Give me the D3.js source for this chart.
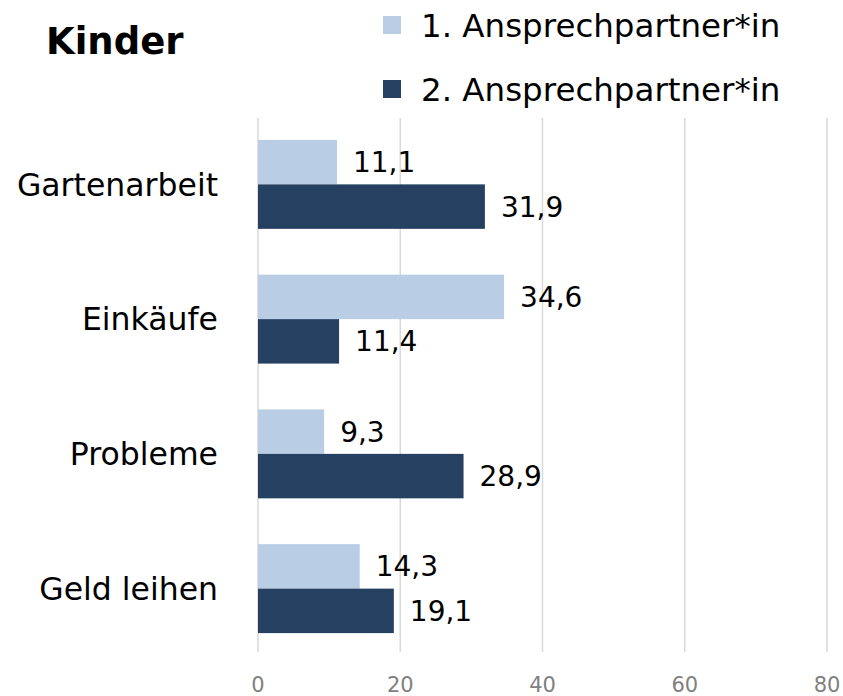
<!DOCTYPE html>
<html>
<head>
<meta charset="utf-8">
<script src="https://cdn.jsdelivr.net/npm/d3@7"></script>
<style>
  body { margin: 0; background: #fff; }
  svg { font-family: "DejaVu Sans", Verdana, sans-serif; }
</style>
</head>
<body>
<svg id="chart"></svg>
<script>
const categories = ["Gartenarbeit", "Einkäufe", "Probleme", "Geld leihen"];
const seriesNames = ["1. Ansprechpartner*in", "2. Ansprechpartner*in"];
const first = [11.1, 34.6, 9.3, 14.3];
const second = [31.9, 11.4, 28.9, 19.1];
const ticks = [0, 20, 40, 60, 80];
const colors = ["#b9cde5", "#254061"];

let width = 843;
let height = 696;
let margin = {top: 117, right: 16, bottom: 40, left: 258};

const svg = d3.select("#chart")
    .attr("width", width)
    .attr("height", height);

const x = d3.scaleLinear()
    .domain([0, 80])
    .range([margin.left, width - margin.right]);

const y = d3.scaleBand()
    .domain(categories)
    .range([margin.top, height - margin.bottom])
    .paddingInner(0.34)
    .paddingOuter(0.17);

const ySub = d3.scaleBand()
    .domain([0, 1])
    .range([0, y.bandwidth()]);

// gridlines
svg.append("g")
    .selectAll("line")
    .data(ticks)
    .join("line")
    .attr("x1", d => x(d))
    .attr("x2", d => x(d))
    .attr("y1", 118)
    .attr("y2", 652)
    .attr("stroke", "#d9d9d9")
    .attr("stroke-width", 1.5);

// tick labels
svg.append("g")
    .attr("font-size", 21)
    .attr("fill", "#808080")
    .attr("text-anchor", "middle")
    .selectAll("text")
    .data(ticks)
    .join("text")
    .attr("x", d => x(d))
    .attr("y", 692)
    .text(d => d);

const rows = categories.map((c, i) => ({cat: c, vals: [first[i], second[i]]}));

const groups = svg.append("g")
    .selectAll("g")
    .data(rows)
    .join("g")
    .attr("transform", d => `translate(0,${y(d.cat)})`);

groups.selectAll("rect")
    .data(d => d.vals.map((v, s) => ({v, s})))
    .join("rect")
    .attr("x", x(0))
    .attr("y", d => ySub(d.s))
    .attr("width", d => x(d.v) - x(0))
    .attr("height", ySub.bandwidth())
    .attr("fill", d => colors[d.s]);

groups.selectAll("text.val")
    .data(d => d.vals.map((v, s) => ({v, s})))
    .join("text")
    .attr("class", "val")
    .attr("x", d => x(d.v) + 16)
    .attr("y", d => ySub(d.s) + ySub.bandwidth() / 2)
    .attr("dy", "0.36em")
    .attr("font-size", 28)
    .attr("fill", "#000")
    .text(d => d3.format(".1f")(d.v).replace(".", ","));

// category labels
svg.append("g")
    .attr("font-size", 31.5)
    .attr("text-anchor", "end")
    .selectAll("text")
    .data(categories)
    .join("text")
    .attr("x", 218)
    .attr("y", d => y(d) + y.bandwidth() / 2)
    .attr("dy", "0.36em")
    .text(d => d);

// title
svg.append("text")
    .attr("x", 46)
    .attr("y", 54)
    .attr("font-size", 37)
    .attr("font-weight", "bold")
    .text("Kinder");

// legend
const legend = svg.append("g")
    .selectAll("g")
    .data(seriesNames)
    .join("g")
    .attr("transform", (d, i) => `translate(383,${25 + i * 64})`);

legend.append("rect")
    .attr("x", 0)
    .attr("y", -9)
    .attr("width", 18)
    .attr("height", 18)
    .attr("fill", (d, i) => colors[i]);

legend.append("text")
    .attr("x", 38)
    .attr("dy", "0.36em")
    .attr("font-size", 32.5)
    .text(d => d);
</script>
</body>
</html>
